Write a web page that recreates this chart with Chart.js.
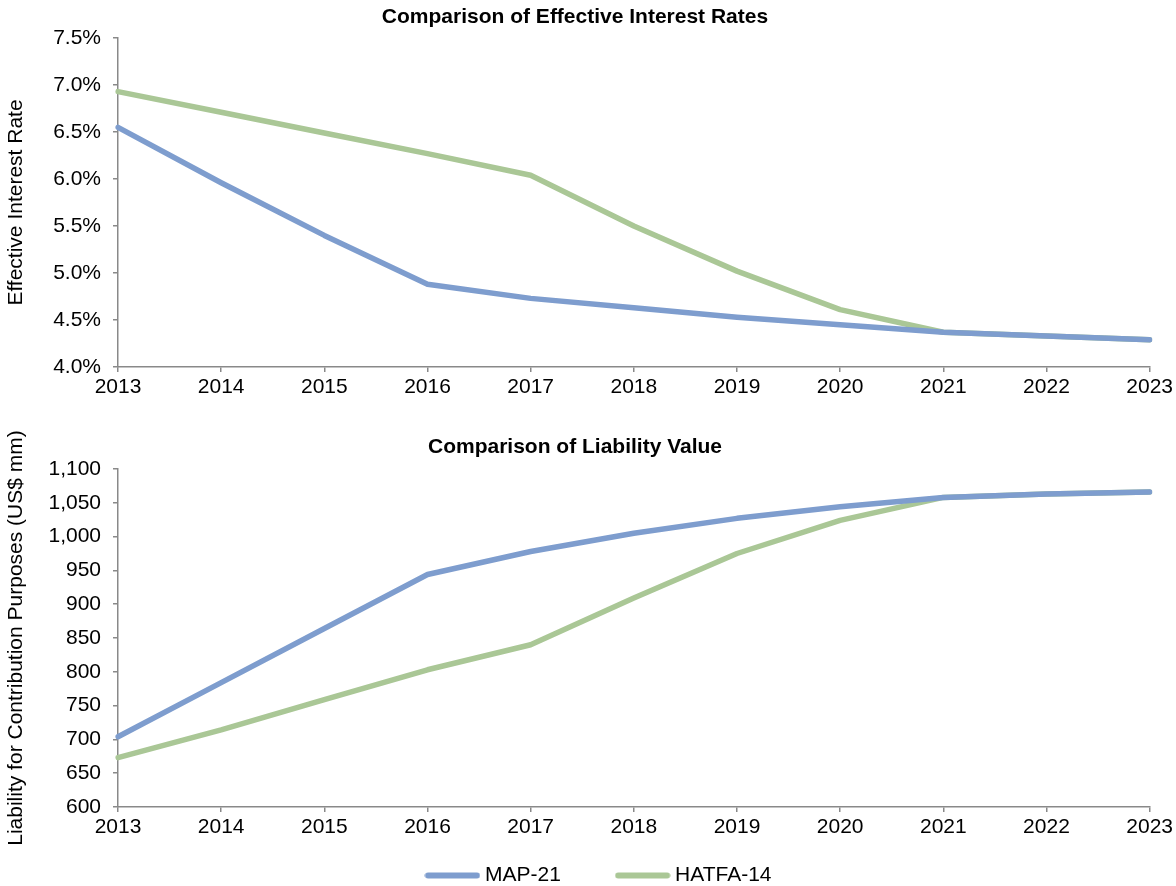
<!DOCTYPE html>
<html>
<head>
<meta charset="utf-8">
<script src="https://cdn.jsdelivr.net/npm/chart.js@4"></script>
<style>
html,body{margin:0;padding:0;background:#fff;width:1176px;height:886px;overflow:hidden;}
#c1wrap{position:absolute;left:0;top:0;width:1176px;height:400px;}
#c2wrap{position:absolute;left:0;top:425px;width:1176px;height:461px;}
</style>
</head>
<body>
<div id="c1wrap"><canvas id="c1"></canvas></div>
<div id="c2wrap"><canvas id="c2"></canvas></div>
<script>
const years = ['2013','2014','2015','2016','2017','2018','2019','2020','2021','2022','2023'];
const seriesNames = ['MAP-21','HATFA-14'];
const rateMap21  = [6.55, 5.96, 5.40, 4.88, 4.73, 4.63, 4.53, 4.45, 4.37, 4.33, 4.29];
const rateHatfa14 = [6.93, 6.71, 6.49, 6.27, 6.04, 5.50, 5.02, 4.61, 4.37, 4.33, 4.29];
const liabMap21  = [704, 784, 864, 944, 978, 1005, 1027, 1044, 1058, 1063, 1066];
const liabHatfa14 = [673, 714, 759, 803, 840, 909, 975, 1024, 1058, 1063, 1066];
const titleTop = 'Comparison of Effective Interest Rates';
const titleBottom = 'Comparison of Liability Value';
const yTitleTop = 'Effective Interest Rate';
const yTitleBottom = 'Liability for Contribution Purposes (US$ mm)';

const BLUE = '#7E9DCE';
const GREEN = '#AAC796';
const AXIS = '#898989';
const FONT = "'Liberation Sans', Arial, sans-serif";
const FS = 21;
Chart.defaults.font.family = FONT;
Chart.defaults.color = '#000';

function legendLine(color){
  const c = document.createElement('canvas');
  c.width = 56; c.height = 7;
  const g = c.getContext('2d');
  g.strokeStyle = color; g.lineWidth = 6; g.lineCap = 'round';
  g.beginPath(); g.moveTo(3.5, 3.5); g.lineTo(52.5, 3.5); g.stroke();
  return c;
}
const legendImgs = [legendLine(BLUE), legendLine(GREEN)];

const legendShift = {
  id: 'legendShift',
  afterLayout(chart, args, opts){
    const lg = chart.legend;
    if (!lg || !opts) return;
    if (opts.dx) { lg.left += opts.dx; lg.right += opts.dx; }
    if (opts.dy) { lg.top += opts.dy; lg.bottom += opts.dy; }
  }
};

function ds(label, data, color){
  return {label, data, borderColor: color, backgroundColor: color, borderWidth: 5.5,
    pointRadius: 0, pointHoverRadius: 0, tension: 0, fill: false, borderCapStyle: 'round', borderJoinStyle: 'round'};
}

function makeOpts(title, yTitle, ymin, ymax, step, fmt, showLegend, xHeight, titlePad){
  return {
    responsive: true, maintainAspectRatio: false, animation: false,
    layout: {padding: {left: 0, right: 26, top: 0, bottom: 0}},
    plugins: {
      title: {display: true, text: title, font: {size: 21, weight: 'bold'}, color: '#000', padding: titlePad},
      legendShift: {dx: 26, dy: 10},
      legend: showLegend ? {
        display: true, position: 'bottom',
        labels: {
          usePointStyle: true, pointStyleWidth: 44, boxHeight: 6,
          font: {size: FS}, color: '#000', padding: 2,
          generateLabels: chart => {
            const items = Chart.defaults.plugins.legend.labels.generateLabels(chart);
            items.forEach((it, i) => {
              it.pointStyle = legendImgs[i];
              it.lineWidth = 0;
              if (i === 0) it.text = it.text + '\u2003\u2003\u2002\u2005';
            });
            return items;
          }
        }
      } : {display: false},
      tooltip: {enabled: false}
    },
    scales: {
      x: {
        type: 'category', offset: false,
        grid: {display: true, drawOnChartArea: false, drawTicks: true, tickLength: 5, color: AXIS, lineWidth: 1.5},
        border: {display: true, color: AXIS, width: 1.5},
        ticks: {font: {size: FS}, color: '#000', padding: 3, maxRotation: 0, autoSkip: false},
        afterFit: s => { s.height = xHeight; }
      },
      y: {
        min: ymin, max: ymax,
        grid: {display: true, drawOnChartArea: false, drawTicks: true, tickLength: 5, color: AXIS, lineWidth: 1.5},
        border: {display: true, color: AXIS, width: 1.5},
        ticks: {stepSize: step, font: {size: FS}, color: '#000', padding: 12, callback: fmt},
        title: {display: true, text: yTitle, font: {size: FS}, color: '#000', padding: {top: 4, bottom: 0}},
        afterFit: s => { s.width = 118; }
      }
    }
  };
}

new Chart(document.getElementById('c1'), {
  type: 'line',
  data: {labels: years, datasets: [ds(seriesNames[0], rateMap21, BLUE), ds(seriesNames[1], rateHatfa14, GREEN)]},
  options: makeOpts(titleTop, yTitleTop, 4.0, 7.5, 0.5, v => Number(v).toFixed(1) + '%', false, 33, {top: 4.4, bottom: 8.4})
});

new Chart(document.getElementById('c2'), {
  type: 'line',
  data: {labels: years, datasets: [ds(seriesNames[0], liabMap21, BLUE), ds(seriesNames[1], liabHatfa14, GREEN)]},
  options: makeOpts(titleBottom, yTitleBottom, 600, 1100, 50, v => Number(v).toLocaleString('en-US'), true, 46, {top: 9.4, bottom: 9.4}),
  plugins: [legendShift]
});
</script>
</body>
</html>
